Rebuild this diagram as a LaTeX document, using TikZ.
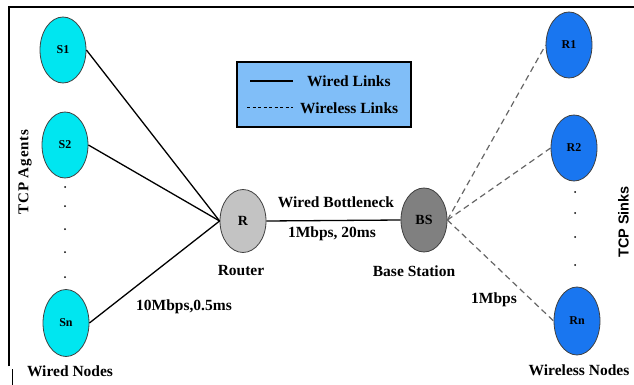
\documentclass[tikz,border=0pt]{standalone}
\usepackage{fontspec}
\setmainfont{Liberation Serif}
\setsansfont{Liberation Sans}
\usetikzlibrary{shapes.geometric}

\definecolor{wiredcyan}{RGB}{0,230,240}
\definecolor{wirelessblue}{RGB}{25,118,240}
\definecolor{routergray}{RGB}{195,195,195}
\definecolor{stationgray}{RGB}{128,128,128}
\definecolor{legendblue}{RGB}{128,190,248}

\begin{document}
\begin{tikzpicture}[x=1pt, y=-1pt,
    host/.style={ellipse, draw=black!75, line width=0.8pt, minimum width=46pt,
                 minimum height=66pt, inner sep=0pt, font=\bfseries\fontsize{12}{12}\selectfont},
    lbl/.style={font=\bfseries\fontsize{15.5}{16}\selectfont, inner sep=0pt},
    wired/.style={line width=1.3pt, black},
    wireless/.style={line width=1.2pt, black!60, dash pattern=on 6pt off 4pt},
    dotmark/.style={circle, fill=black, inner sep=0pt, minimum size=2pt}]
  \useasboundingbox (0, 0) rectangle (634, 385);

  \draw[line width=1.6pt] (9, 366) -- (9, 7) -- (634, 7); % frame
  \draw[line width=1pt] (12, 369) -- (12, 385);

  % legend
  \draw[line width=1.6pt, fill=legendblue] (237, 62) rectangle (411, 127);
  \draw[line width=1.5pt] (250, 81) -- (293, 81);
  \draw[line width=1pt, dash pattern=on 3pt off 2.5pt] (247, 108) -- (293, 108);
  \node[lbl, anchor=west] (wiredkey) at (307, 81) {Wired Links};
  \node[lbl, anchor=west] (wirelesskey) at (300, 108) {Wireless Links};

  % wired side
  \node[host, fill=wiredcyan] (S1) at (63, 50) {S1};
  \node[host, fill=wiredcyan] (S2) at (65, 145) {S2};
  \node[host, fill=wiredcyan, minimum height=67pt] (Sn) at (66, 323) {Sn};
  \foreach \y in {187, 206, 229, 252, 277}
    \node[dotmark] at (65, \y) {};
  \node[lbl] (wirednodes) at (70, 371) {Wired Nodes};
  \node[lbl, rotate=90, font=\bfseries\fontsize{15}{15}\selectfont\addfontfeature{LetterSpace=6}]
    (agents) at (25, 172) {TCP Agents};

  % router and base station
  \node[host, fill=routergray, minimum height=63pt, font=\bfseries\fontsize{14}{14}\selectfont] (R) at (243, 221) {R};
  \node[host, fill=stationgray, minimum height=64pt, font=\bfseries\fontsize{14}{14}\selectfont] (BS) at (424, 220) {BS};
  \node[lbl] (router) at (241, 271) {Router};
  \node[lbl] (station) at (414, 271) {Base Station};

  % wireless side
  \node[host, fill=wirelessblue] (R1) at (569, 45) {R1};
  \node[host, fill=wirelessblue] (R2) at (574, 148) {R2};
  \node[host, fill=wirelessblue, minimum height=68pt] (Rn) at (577, 321) {Rn};
  \foreach \y in {192, 213, 237, 265}
    \node[dotmark] at (575, \y) {};
  \node[lbl] (wirelessnodes) at (579, 370) {Wireless Nodes};
  \node[rotate=90, anchor=south, inner sep=0pt, font=\sffamily\bfseries\fontsize{14.5}{15}\selectfont]
    (sinks) at (629, 222) {TCP Sinks};

  % links
  \draw[wired] (S1.east) -- (R.west);
  \draw[wired] (S2.east) -- (R.west);
  \draw[wired] (Sn.east) -- (R.west);
  \draw[wired] (R.east) -- (BS.west);
  \draw[wireless] (BS.east) -- (R1.west);
  \draw[wireless] (BS.east) -- (R2.west);
  \draw[wireless] (BS.east) -- (Rn.west);

  \node[lbl] (bottleneck) at (336, 202) {Wired Bottleneck};
  \node[lbl] (bottlerate) at (332, 234) {1Mbps, 20ms};
  \node[lbl] (wiredrate) at (184, 307) {10Mbps,0.5ms};
  \node[lbl] (wirelessrate) at (494, 300) {1Mbps};
\end{tikzpicture}
\end{document}
